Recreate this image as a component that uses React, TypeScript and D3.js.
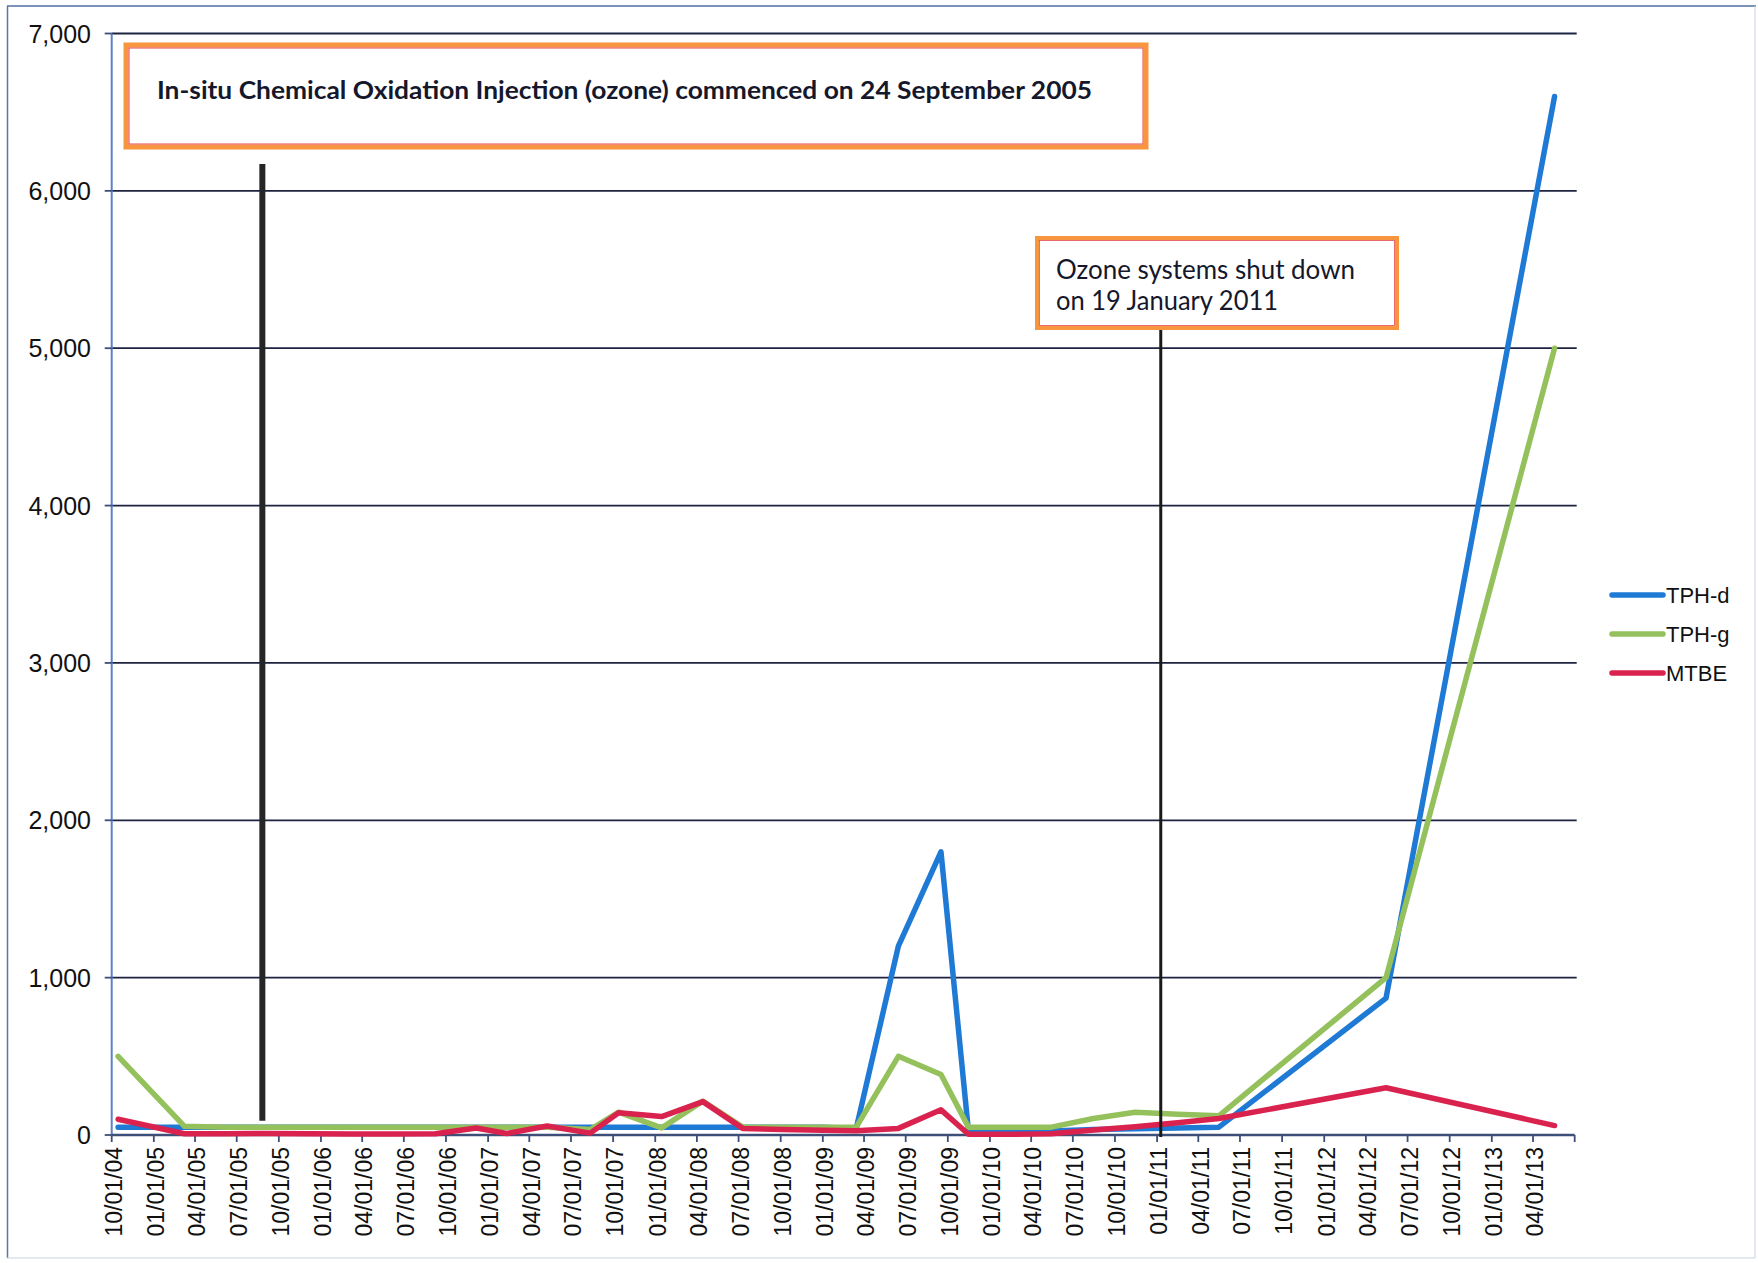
import React from "react";
import * as d3 from "d3";

// ---------- data ----------
const sampleDates = [
  "2004-10-15", "2005-03-09", "2005-06-08", "2005-09-08", "2005-12-08", "2006-03-08",
  "2006-06-08", "2006-09-08", "2006-12-06", "2007-02-11", "2007-05-10", "2007-08-12",
  "2007-10-13", "2008-01-15", "2008-04-14", "2008-07-10", "2008-10-05", "2009-01-01",
  "2009-03-15", "2009-06-15", "2009-09-16", "2009-11-15", "2010-02-15", "2010-05-15",
  "2010-08-15", "2010-11-14", "2011-02-15", "2011-05-16", "2012-05-15", "2013-05-18",
];
const tphD = [
  50, 50, 50, 50, 50, 50, 50, 50, 50, 50, 50, 50, 50, 50, 50, 50, 50, 50,
  42, 1200, 1800, 25, 20, 25, 35, 40, 45, 50, 870, 6600,
];
const tphG = [
  500, 55, 50, 50, 50, 50, 50, 50, 50, 50, 50, 35, 145, 45, 215, 50, 50, 50,
  50, 500, 385, 50, 50, 50, 105, 144, 132, 122, 1000, 5000,
];
const mtbe = [
  100, 8, 8, 10, 8, 6, 6, 8, 45, 10, 57, 12, 142, 117, 212, 42, 35, 30,
  27, 42, 160, 5, 5, 8, 32, 53, 78, 105, 300, 60,
];
const seriesNames = ["TPH-d", "TPH-g", "MTBE"];
const seriesColors = ["#1f7ad6", "#94c15c", "#d9234e"];
const yTicks = [0, 1000, 2000, 3000, 4000, 5000, 6000, 7000];
const axisStart = "2004-10-01";
const axisEnd = "2013-07-01";

const note1Text = "In-situ Chemical Oxidation Injection (ozone) commenced on 24 September 2005";
const note2Lines = ["Ozone systems shut down", "on 19 January 2011"];
const note1Date = "2005-08-26";
const note1Range = [90, 6170];
const note2Date = "2011-01-09";

// ---------- layout ----------
const W = 1758;
const H = 1263;
const PL = 111.7;
const PR = 1574.7;
const PT = 33.5;
const PB = 1135;

const parse = d3.timeParse("%Y-%m-%d");
const fmt = d3.timeFormat("%m/%d/%y");

export default function App() {
  const x = d3
    .scaleTime()
    .domain([parse(axisStart)!, parse(axisEnd)!])
    .range([PL, PR]);
  const y = d3.scaleLinear().domain([0, 7000]).range([PB, PT]);
  const dates = sampleDates.map((s) => parse(s)!);
  const xTicks = d3.timeMonth.every(3)!.range(parse(axisStart)!, d3.timeDay.offset(parse(axisEnd)!, 1));

  const series = [tphD, tphG, mtbe];
  const line = (vals: number[]) =>
    d3
      .line<number>()
      .x((_, i) => x(dates[i]))
      .y((v) => y(v))(vals) || "";

  const n1x = x(parse(note1Date)!);
  const n2x = x(parse(note2Date)!);
  const labelFont = "'Liberation Sans', Arial, sans-serif";
  const noteFont = "Lato, 'Open Sans', sans-serif";

  return (
    <svg
      width={W}
      height={H}
      style={{ position: "absolute", left: 0, top: 0, background: "#fff" }}
    >
      <rect x={0} y={0} width={W} height={H} fill="#fff" />
      {/* outer frame */}
      <line x1={7} y1={6} x2={1756} y2={6} stroke="#4f6fa0" strokeWidth={1.5} />
      <line x1={7.5} y1={6} x2={7.5} y2={1258} stroke="#5a78a8" strokeWidth={1.5} />
      <line x1={1755} y1={6} x2={1755} y2={1258} stroke="#c9d3e3" strokeWidth={1} />
      <line x1={7} y1={1258} x2={1755} y2={1258} stroke="#c9d3e3" strokeWidth={1} />

      {/* gridlines */}
      {yTicks.slice(1).map((t) => (
        <line key={t} x1={PL} x2={PR + 2} y1={y(t)} y2={y(t)} stroke="#1d2340" strokeWidth={1.8} />
      ))}

      {/* y axis */}
      <line x1={PL} x2={PL} y1={PT} y2={PB} stroke="#5a82c8" strokeWidth={2} />
      {yTicks.map((t) => (
        <g key={t}>
          <line x1={PL - 7} x2={PL} y1={y(t)} y2={y(t)} stroke="#3d4f78" strokeWidth={1.8} />
          <text
            x={91}
            y={y(t)}
            dy="0.36em"
            textAnchor="end"
            fontFamily={labelFont}
            fontSize={25}
            fill="#111"
          >
            {d3.format(",")(t)}
          </text>
        </g>
      ))}

      {/* x axis */}
      <line x1={PL} x2={PR} y1={PB} y2={PB} stroke="#3d4f78" strokeWidth={2.5} />
      {xTicks.map((d, i) => (
        <g key={i}>
          <line x1={x(d)} x2={x(d)} y1={PB} y2={PB + 7} stroke="#3d4f78" strokeWidth={1.8} />
          {i < xTicks.length - 1 && (
            <text
              transform={`translate(${x(d) + 2},${PB + 12}) rotate(-90)`}
              dy="0.36em"
              textAnchor="end"
              fontFamily={labelFont}
              fontSize={23}
              fill="#111"
            >
              {fmt(d)}
            </text>
          )}
        </g>
      ))}

      {/* series */}
      {series.map((vals, k) => (
        <path
          key={k}
          d={line(vals)}
          fill="none"
          stroke={seriesColors[k]}
          strokeWidth={5.5}
          strokeLinejoin="round"
          strokeLinecap="round"
        />
      ))}

      {/* annotation 1 */}
      <line
        x1={n1x}
        x2={n1x}
        y1={y(note1Range[0])}
        y2={y(note1Range[1])}
        stroke="#262626"
        strokeWidth={6}
      />
      <rect x={126} y={45} width={1020} height={102} fill="#fff" stroke="#f7963f" strokeWidth={5} />
      <rect x={129} y={48} width={1014} height={96} fill="none" stroke="#e8454a" strokeWidth={1} />
      <text
        x={157}
        y={99}
        fontFamily={noteFont}
        fontWeight={700}
        fontSize={25}
        fill="#15172b"
        textLength={935}
        lengthAdjust="spacingAndGlyphs"
      >
        {note1Text}
      </text>

      {/* annotation 2 */}
      <line x1={n2x} x2={n2x} y1={328} y2={PB + 2} stroke="#1a1a1a" strokeWidth={3} />
      <rect x={1037} y={238} width={360} height={90} fill="#fff" stroke="#f7963f" strokeWidth={4} />
      <rect x={1039.5} y={240.5} width={355} height={85} fill="none" stroke="#e8454a" strokeWidth={0.8} />
      {note2Lines.map((t, i) => (
        <text
          key={i}
          x={1056}
          y={279 + i * 31}
          fontFamily={noteFont}
          fontSize={26}
          fill="#15172b"
          textLength={i === 0 ? 299 : 222}
          lengthAdjust="spacingAndGlyphs"
        >
          {t}
        </text>
      ))}

      {/* legend */}
      {seriesNames.map((name, k) => (
        <g key={name}>
          <line
            x1={1612}
            x2={1663}
            y1={595 + k * 39}
            y2={595 + k * 39}
            stroke={seriesColors[k]}
            strokeWidth={5.5}
            strokeLinecap="round"
          />
          <text
            x={1666}
            y={595 + k * 39}
            dy="0.36em"
            fontFamily={labelFont}
            fontSize={22}
            fill="#111"
          >
            {name}
          </text>
        </g>
      ))}
    </svg>
  );
}
